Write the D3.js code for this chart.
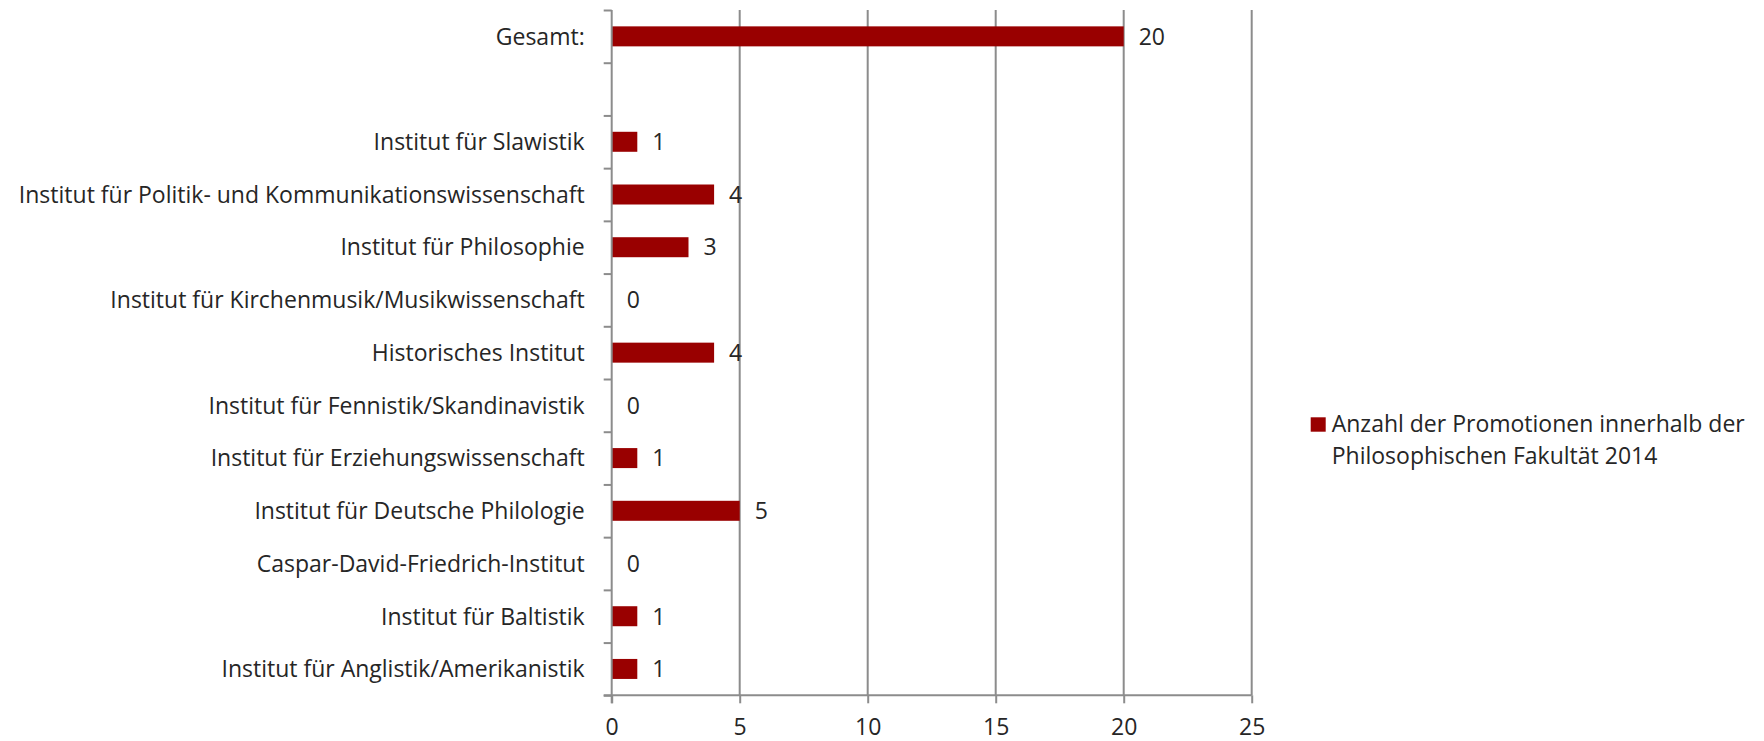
<!DOCTYPE html>
<html>
<head>
<meta charset="utf-8">
<script src="https://cdn.jsdelivr.net/npm/d3@7"></script>
<style>
  html, body { margin: 0; padding: 0; background: #fff; }
  svg { display: block; font-family: "Open Sans", "Noto Sans", sans-serif; font-variant-ligatures: none; }
</style>
</head>
<body>
<svg id="chart" width="1764" height="741"></svg>
<script>
// Institutes, listed top to bottom; "" is the empty spacer row under the total
const categories = [
  "Gesamt:",
  "",
  "Institut für Slawistik",
  "Institut für Politik- und Kommunikationswissenschaft",
  "Institut für Philosophie",
  "Institut für Kirchenmusik/Musikwissenschaft",
  "Historisches Institut",
  "Institut für Fennistik/Skandinavistik",
  "Institut für Erziehungswissenschaft",
  "Institut für Deutsche Philologie",
  "Caspar-David-Friedrich-Institut",
  "Institut für Baltistik",
  "Institut für Anglistik/Amerikanistik"
];
const values = [20, null, 1, 4, 3, 0, 4, 0, 1, 5, 0, 1, 1];
const xTicks = [0, 5, 10, 15, 20, 25];
const seriesName = ["Anzahl der Promotionen innerhalb der", "Philosophischen Fakultät 2014"];

const barColor = "#990000";
const gridColor = "#8c8c8c";
const textColor = "#262626";
const fontSize = 23;

const svg = d3.select("#chart");
const plot = { left: 611.7, right: 1251.7, top: 10, bottom: 695.3 };

const x = d3.scaleLinear().domain([0, 25]).range([plot.left, plot.right]);
const y = d3.scaleBand().domain(categories).range([plot.top, plot.bottom]).padding(0);
const yEdge = d3.scaleLinear().domain([0, categories.length]).range([plot.top, plot.bottom]);
const barH = 20;

// vertical gridlines
svg.append("g")
  .selectAll("line")
  .data(xTicks.filter(t => t > 0))
  .join("line")
  .attr("x1", d => x(d)).attr("x2", d => x(d))
  .attr("y1", plot.top).attr("y2", plot.bottom)
  .attr("stroke", gridColor).attr("stroke-width", 2);

// bars
const rows = categories.map((c, i) => ({ c, v: values[i] })).filter(d => d.v !== null);
svg.append("g")
  .selectAll("rect")
  .data(rows.filter(d => d.v > 0))
  .join("rect")
  .attr("x", x(0))
  .attr("y", d => y(d.c) + (y.bandwidth() - barH) / 2)
  .attr("width", d => x(d.v) - x(0))
  .attr("height", barH)
  .attr("fill", barColor);

// value labels
svg.append("g")
  .selectAll("text")
  .data(rows)
  .join("text")
  .attr("x", d => x(d.v) + 15)
  .attr("y", d => y(d.c) + y.bandwidth() / 2)
  .attr("dy", "0.36em")
  .attr("fill", textColor)
  .style("font-size", fontSize + "px")
  .text(d => d.v);

// category axis: line with ticks on band edges
const yAxis = svg.append("g")
  .attr("transform", `translate(${plot.left},0)`)
  .call(d3.axisLeft(yEdge).tickValues(d3.range(categories.length + 1)).tickSize(8).tickFormat(""));
yAxis.select(".domain").remove();
yAxis.selectAll(".tick line").attr("stroke", gridColor).attr("stroke-width", 2);
svg.append("line")
  .attr("x1", plot.left).attr("x2", plot.left)
  .attr("y1", plot.top).attr("y2", plot.bottom + 8)
  .attr("stroke", gridColor).attr("stroke-width", 2);

// category labels
svg.append("g")
  .selectAll("text")
  .data(categories)
  .join("text")
  .attr("x", plot.left - 27)
  .attr("y", d => y(d) + y.bandwidth() / 2)
  .attr("dy", "0.36em")
  .attr("text-anchor", "end")
  .attr("fill", textColor)
  .style("font-size", fontSize + "px")
  .text(d => d);

// value axis
const xAxis = svg.append("g")
  .attr("transform", `translate(0,${plot.bottom})`)
  .call(d3.axisBottom(x).tickValues(xTicks).tickSize(8).tickPadding(15));
xAxis.select(".domain").remove();
xAxis.selectAll(".tick line").attr("stroke", gridColor).attr("stroke-width", 2);
xAxis.selectAll(".tick text")
  .attr("fill", textColor)
  .style("font-size", fontSize + "px")
  .style("font-family", "'Open Sans', 'Noto Sans', sans-serif");
svg.append("line")
  .attr("x1", plot.left - 8).attr("x2", plot.right)
  .attr("y1", plot.bottom).attr("y2", plot.bottom)
  .attr("stroke", gridColor).attr("stroke-width", 2);

// legend
const legend = svg.append("g").attr("transform", "translate(1310.7,0)");
legend.append("rect")
  .attr("x", 0).attr("y", 417.3)
  .attr("width", 15).attr("height", 14.4)
  .attr("fill", barColor);
legend.append("text")
  .attr("fill", textColor)
  .style("font-size", fontSize + "px")
  .selectAll("tspan")
  .data(seriesName)
  .join("tspan")
  .attr("x", 21)
  .attr("y", (d, i) => 432 + i * 31.5)
  .text(d => d);
</script>
</body>
</html>
